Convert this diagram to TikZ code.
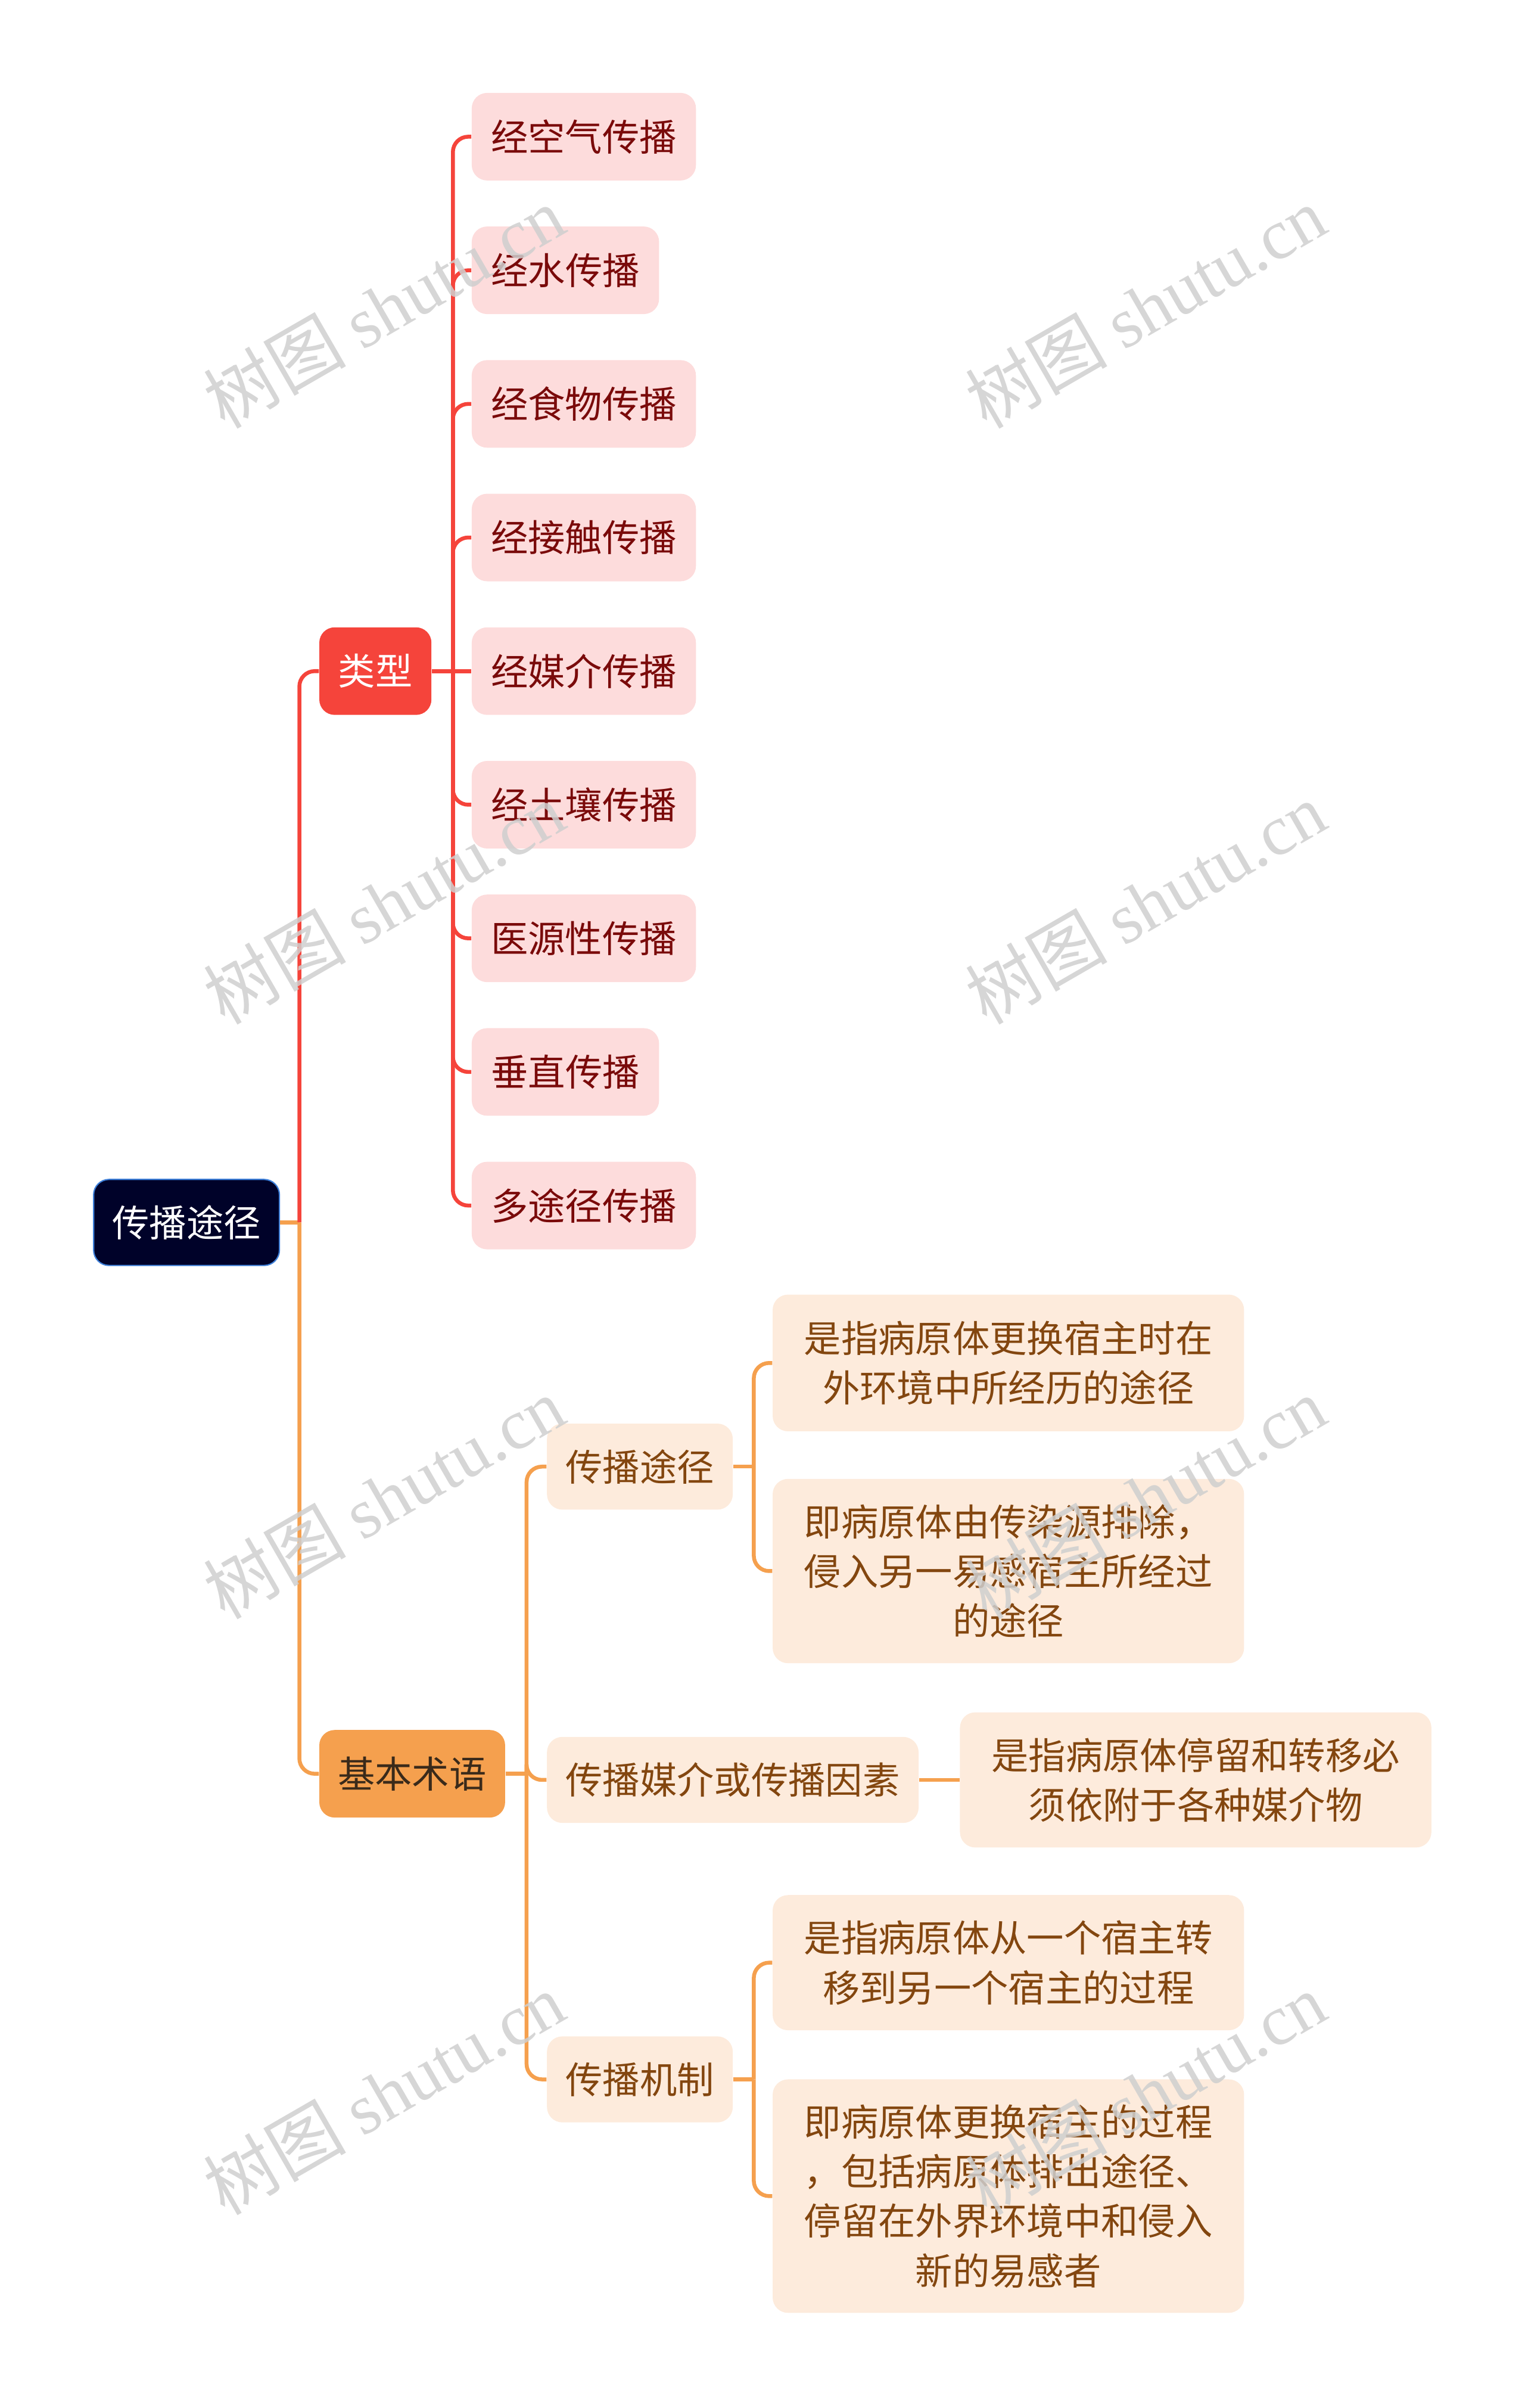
\documentclass[tikz,border=0pt]{standalone}
\usepackage{fontspec}
\setmainfont{Noto Sans CJK SC}
\newfontfamily\wmlatin{Liberation Serif}
\usepackage{xcolor}
\usetikzlibrary{positioning, calc}

\definecolor{rootfill}{HTML}{000229}
\definecolor{rootline}{HTML}{3D7FD9}
\definecolor{typered}{HTML}{F5443B}
\definecolor{pinkfill}{HTML}{FDDCDC}
\definecolor{pinktext}{HTML}{7A0A0A}
\definecolor{termorange}{HTML}{F5A04E}
\definecolor{termtext}{HTML}{3A2A1A}
\definecolor{peachfill}{HTML}{FDEBDC}
\definecolor{peachtext}{HTML}{83460F}
\definecolor{wmgray}{HTML}{CFCFCF}

\begin{document}
\begin{tikzpicture}[x=0.025cm, y=-0.025cm,
    box/.style={rounded corners=2.5mm, inner sep=0pt, minimum height=14.25mm, align=center, font=\fontsize{17.2}{23}\selectfont},
    rootbox/.style={box, fill=rootfill, draw=rootline, line width=0.6pt, text=white, minimum width=30.25mm, minimum height=14mm},
    typebox/.style={box, fill=typered, text=white, minimum width=18.25mm},
    termbox/.style={box, fill=termorange, text=termtext, minimum width=30.25mm},
    pinkbox/.style={box, fill=pinkfill, text=pinktext, anchor=west},
    peachbox/.style={box, fill=peachfill, text=peachtext, anchor=west},
    redline/.style={draw=typered, line width=1.8pt, rounded corners=2.5mm},
    orangeline/.style={draw=termorange, line width=1.8pt, rounded corners=2.5mm},
    wmark/.style={text=wmgray, opacity=0.85, rotate=30, font=\fontsize{33}{33}\selectfont}
  ]
    \useasboundingbox (0, 0) rectangle (993, 1568);

    % Root & main branches
    \node[rootbox] (root) at (121.5, 796) {传播途径};
    \node[typebox] (type) at (244.5, 437) {类型};
    \node[termbox] (term) at (268.5, 1155) {基本术语};

    % Types of transmission
    \node[pinkbox, minimum width=36.5mm] (air) at (307, 89) {经空气传播};
    \node[pinkbox, minimum width=30.5mm] (water) at (307, 176) {经水传播};
    \node[pinkbox, minimum width=36.5mm] (food) at (307, 263) {经食物传播};
    \node[pinkbox, minimum width=36.5mm] (contact) at (307, 350) {经接触传播};
    \node[pinkbox, minimum width=36.5mm] (vector) at (307, 437) {经媒介传播};
    \node[pinkbox, minimum width=36.5mm] (soil) at (307, 524) {经土壤传播};
    \node[pinkbox, minimum width=36.5mm] (iatro) at (307, 611) {医源性传播};
    \node[pinkbox, minimum width=30.5mm] (vertical) at (307, 698) {垂直传播};
    \node[pinkbox, minimum width=36.5mm] (multi) at (307, 785) {多途径传播};

    % Basic terms
    \node[peachbox, minimum width=30.25mm, minimum height=14mm] (route) at (356, 955) {传播途径};
    \node[peachbox, minimum width=60.5mm, minimum height=14mm] (factor) at (356, 1159) {传播媒介或传播因素};
    \node[peachbox, minimum width=30.25mm, minimum height=14mm] (mech) at (356, 1354) {传播机制};

    % Definitions
    \node[peachbox, minimum width=76.75mm, minimum height=22.25mm] (routeA) at (503, 887.5)
      {是指病原体更换宿主时在\\外环境中所经历的途径};
    \node[peachbox, minimum width=76.75mm, minimum height=30mm] (routeB) at (503, 1023)
      {即病原体由传染源排除，\\侵入另一易感宿主所经过\\的途径};
    \node[peachbox, minimum width=76.75mm, minimum height=22mm] (factorA) at (625, 1159)
      {是指病原体停留和转移必\\须依附于各种媒介物};
    \node[peachbox, minimum width=76.75mm, minimum height=22mm] (mechA) at (503, 1278)
      {是指病原体从一个宿主转\\移到另一个宿主的过程};
    \node[peachbox, minimum width=76.75mm, minimum height=38mm] (mechB) at (503, 1430)
      {即病原体更换宿主的过程\\，包括病原体排出途径、\\停留在外界环境中和侵入\\新的易感者};

    % Connectors from root
    \coordinate (rootfork) at (195, 796);
    \draw[orangeline] (root.east) -- (rootfork);
    \draw[redline] (rootfork) |- (type.west);
    \draw[orangeline] (rootfork) |- (term.west);

    % Connectors of types
    \coordinate (typefork) at (295, 437);
    \draw[redline] (type.east) -- (typefork);
    \draw[redline] (typefork) |- (air.west);
    \draw[redline] (typefork) |- (water.west);
    \draw[redline] (typefork) |- (food.west);
    \draw[redline] (typefork) |- (contact.west);
    \draw[redline] (typefork) -- (vector.west);
    \draw[redline] (typefork) |- (soil.west);
    \draw[redline] (typefork) |- (iatro.west);
    \draw[redline] (typefork) |- (vertical.west);
    \draw[redline] (typefork) |- (multi.west);

    % Connectors of terms
    \coordinate (termfork) at (343, 1155);
    \draw[orangeline] (term.east) -- (termfork);
    \draw[orangeline] (termfork) |- (route.west);
    \draw[orangeline] (termfork) |- (factor.west);
    \draw[orangeline] (termfork) |- (mech.west);

    \coordinate (routefork) at (491, 955);
    \draw[orangeline] (route.east) -- (routefork);
    \draw[orangeline] (routefork) |- (routeA.west);
    \draw[orangeline] (routefork) |- (routeB.west);

    \draw[orangeline] (factor.east) -- (factorA.west);

    \coordinate (mechfork) at (491, 1354);
    \draw[orangeline] (mech.east) -- (mechfork);
    \draw[orangeline] (mechfork) |- (mechA.west);
    \draw[orangeline] (mechfork) |- (mechB.west);

    % Watermarks
    \node[wmark] (wm1) at (250, 200) {树图 {\wmlatin shutu.cn}};
    \node[wmark] (wm2) at (746, 200) {树图 {\wmlatin shutu.cn}};
    \node[wmark] (wm3) at (250, 588) {树图 {\wmlatin shutu.cn}};
    \node[wmark] (wm4) at (746, 588) {树图 {\wmlatin shutu.cn}};
    \node[wmark] (wm5) at (250, 975) {树图 {\wmlatin shutu.cn}};
    \node[wmark] (wm6) at (746, 975) {树图 {\wmlatin shutu.cn}};
    \node[wmark] (wm7) at (250, 1363) {树图 {\wmlatin shutu.cn}};
    \node[wmark] (wm8) at (746, 1363) {树图 {\wmlatin shutu.cn}};
\end{tikzpicture}
\end{document}
